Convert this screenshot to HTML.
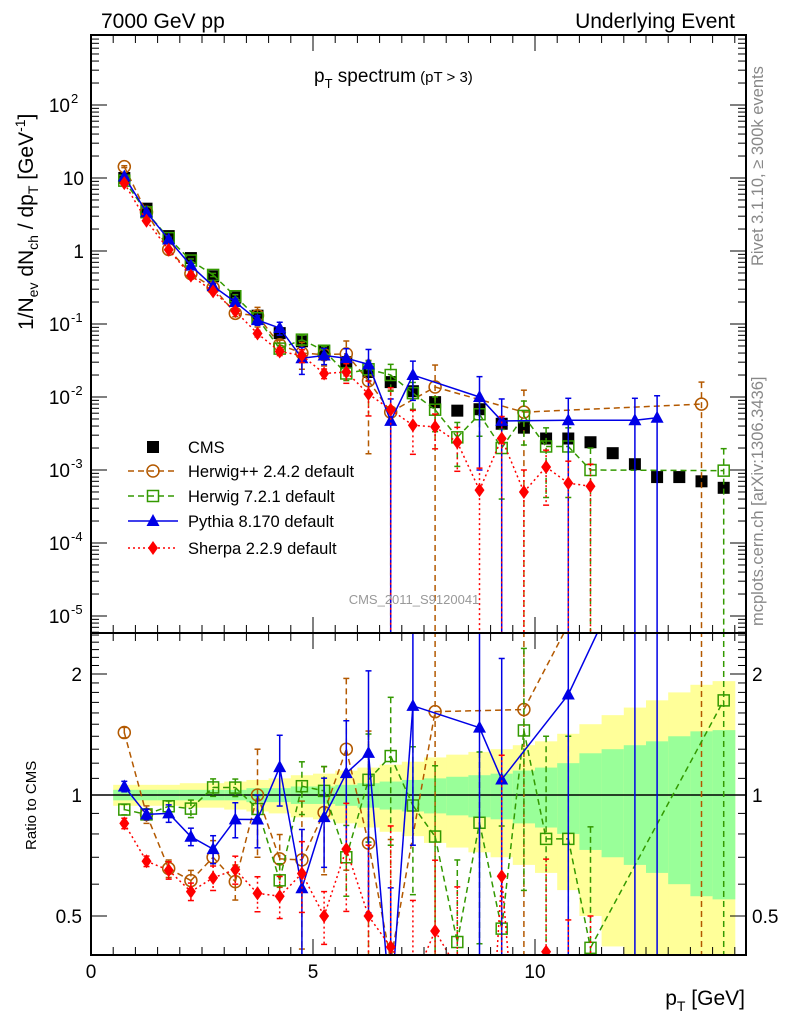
<!DOCTYPE html>
<html><head><meta charset="utf-8"><style>
html,body{margin:0;padding:0;background:#fff;width:786px;height:1024px;overflow:hidden}
svg{display:block;font-family:"Liberation Sans",sans-serif}
</style></head><body>
<svg id="chart" width="786" height="1024" viewBox="0 0 786 1024" xmlns="http://www.w3.org/2000/svg" overflow="hidden">
<defs>
<clipPath id="cm"><rect x="91" y="35" width="655" height="598"/></clipPath>
<clipPath id="cr"><rect x="91" y="633" width="655" height="322"/></clipPath>
</defs>
<g id="bands" clip-path="url(#cr)"></g>
<g id="series"></g>
<text x="101" y="28" font-size="21">7000 GeV pp</text>
<text x="735" y="28" font-size="21" text-anchor="end">Underlying Event</text>
<text x="314" y="82" font-size="19">p<tspan font-size="13" dy="6">T</tspan><tspan dy="-6"> spectrum</tspan><tspan font-size="15"> (pT &gt;  3)</tspan></text>
<text x="414" y="604" font-size="13" fill="#999" text-anchor="middle">CMS_2011_S9120041</text>
<text transform="translate(33,330) rotate(-90)" font-size="21">1/N<tspan font-size="14" dy="5">ev</tspan><tspan dy="-5"> dN</tspan><tspan font-size="14" dy="5">ch</tspan><tspan dy="-5"> / dp</tspan><tspan font-size="14" dy="5">T</tspan><tspan dy="-5"> [GeV</tspan><tspan font-size="14" dy="-8">-1</tspan><tspan dy="8">]</tspan></text>
<text transform="translate(36,850) rotate(-90)" font-size="15">Ratio to CMS</text>
<text x="745" y="1005" font-size="21" text-anchor="end">p<tspan font-size="14" dy="6">T</tspan><tspan dy="-6"> [GeV]</tspan></text>
<text transform="translate(763,266) rotate(-90)" font-size="16.5" fill="#888">Rivet 3.1.10, ≥ 300k events</text>
<text transform="translate(763,626) rotate(-90)" font-size="16.5" fill="#888">mcplots.cern.ch [arXiv:1306.3436]</text>
<g id="axes"></g>
<g id="legend"></g>
</svg>
<script>
const bins = [0.75,1.25,1.75,2.25,2.75,3.25,3.75,4.25,4.75,5.25,5.75,6.25,6.75,7.25,7.75,8.25,8.75,9.25,9.75,10.25,10.75,11.25,11.75,12.25,12.75,13.25,13.75,14.25];
const cmsVals = [10,3.8,1.6,0.8,0.45,0.23,0.13,0.075,0.058,0.042,0.03,0.022,0.016,0.012,0.0085,0.0065,0.0068,0.0043,0.0038,0.0027,0.0027,0.0024,0.0017,0.0012,0.0008,0.0008,0.0007,0.00057];
const herwigppVals = [14.3,3.4,1.05,0.49,0.315,0.14,0.13,0.052,0.04,0.038,0.039,0.0167,0.0062,null,0.0137,null,null,null,0.0062,null,null,null,null,null,null,null,0.008,null];
const herwigppErr = [0.03,0.05,0.05,0.06,0.1,0.1,0.3,0.15,0.4,0.3,0.5,0.9,1,null,1,null,null,null,1,null,null,null,null,null,null,null,1,null];
const herwig7Vals = [9.2,3.4,1.5,0.74,0.47,0.24,0.12,0.046,0.061,0.043,0.021,0.024,0.02,0.0113,0.0067,0.0028,0.0058,0.002,0.0055,0.0021,0.0021,0.001,null,null,null,null,null,0.00098];
const herwig7Err = [0.03,0.03,0.03,0.05,0.05,0.05,0.08,0.1,0.15,0.15,0.2,0.3,0.4,0.4,0.5,0.6,0.5,0.8,0.6,0.8,0.8,1,null,null,null,null,null,1];
const pythiaVals = [10.5,3.4,1.44,0.63,0.33,0.2,0.113,0.088,0.034,0.037,0.034,0.028,0.0047,0.02,null,null,0.01,0.0047,null,null,0.0048,null,null,0.0048,0.0052,null,null,null];
const pythiaErr = [0.03,0.03,0.05,0.05,0.08,0.1,0.15,0.2,0.4,0.25,0.35,0.6,1,0.55,null,null,0.9,1,null,null,1,null,null,1,1,null,null,null];
const sherpaVals = [8.5,2.6,1.04,0.46,0.28,0.15,0.074,0.042,0.037,0.021,0.022,0.011,0.0067,0.0041,0.0039,0.0024,0.00053,0.0027,0.0005,0.0011,0.00066,0.0006,null,null,null,null,null,null];
const sherpaErr = [0.03,0.03,0.05,0.05,0.07,0.08,0.1,0.12,0.2,0.15,0.3,0.5,1,0.6,0.5,0.6,1,1,1,0.7,1,1,null,null,null,null,null,null];
const bandInner = [0.03,0.03,0.03,0.03,0.03,0.03,0.04,0.04,0.05,0.05,0.06,0.07,0.08,0.09,0.1,0.11,0.12,0.13,0.15,0.17,0.2,0.27,0.3,0.33,0.36,0.4,0.44,0.45];
const bandOuter = [0.06,0.06,0.06,0.07,0.07,0.08,0.09,0.1,0.12,0.13,0.15,0.17,0.19,0.21,0.24,0.26,0.28,0.3,0.33,0.36,0.42,0.5,0.58,0.65,0.72,0.8,0.88,0.92];
const xTicks = [0,5,10];
const mainTickExp = [-5,-4,-3,-2,-1,0,1,2];
const mainTickLabels = ["10","10","10","10","10","1","10","10"];
const mainTickSup = ["-5","-4","-3","-2","-1","","","2"];
const ratioTicks = [0.5,1,2];
const ratioTickLabels = ["0.5","1","2"];

const NS="http://www.w3.org/2000/svg";
const X=v=>91+v*44.4;
const YM=v=>251-73*Math.log10(v);
const YR=r=>795-121*Math.log2(r);
function mk(tag,attrs,parent){const e=document.createElementNS(NS,tag);for(const k in attrs)e.setAttribute(k,attrs[k]);parent.appendChild(e);return e;}
const clampY=(y,a,b)=>Math.max(a-2,Math.min(b+2,y));
function clipSeg(x1,y1,x2,y2,a,b){
  let t0=0,t1=1;const dy=y2-y1;
  if(dy===0){if(y1<a||y1>b)return null;return [x1,y1,x2,y2];}
  let ta=(a-y1)/dy,tb=(b-y1)/dy;if(ta>tb){const t=ta;ta=tb;tb=t;}
  t0=Math.max(t0,ta);t1=Math.min(t1,tb);if(t0>=t1)return null;
  return [x1+(x2-x1)*t0,y1+dy*t0,x1+(x2-x1)*t1,y1+dy*t1];
}

const bandG=document.getElementById('bands');
bins.forEach((b,i)=>{
  const x0=X(b-0.25),x1=X(b+0.25);
  const lo=1-bandOuter[i];
  const yo1=clampY(YR(1+bandOuter[i]),633,955), yo2=lo>0?clampY(YR(lo),633,955):955;
  const r1=mk('rect',{x:x0,y:yo1,width:x1-x0+0.5,height:yo2-yo1,fill:'#ffff99'},bandG);
  
  
  const yi1=YR(1+bandInner[i]), yi2=YR(1-bandInner[i]);
  const r2=mk('rect',{x:x0,y:yi1,width:x1-x0+0.5,height:yi2-yi1,fill:'#99ff99'},bandG);
  
  
});
const l1=mk('line',{x1:91,x2:746,y1:YR(1),y2:YR(1),stroke:'#000','stroke-width':1.5},bandG);



function marker(g,type,x,y,color){
  let e;
  if(type==='sq') e=mk('rect',{x:x-6,y:y-6,width:12,height:12,fill:'#000'},g);
  else if(type==='circ') e=mk('circle',{cx:x,cy:y,r:6,fill:'none',stroke:color,'stroke-width':1.5},g);
  else if(type==='osq') e=mk('rect',{x:x-5.5,y:y-5.5,width:11,height:11,fill:'none',stroke:color,'stroke-width':1.5},g);
  else if(type==='tri') e=mk('polygon',{points:`${x},${y-7} ${x-6.5},${y+5} ${x+6.5},${y+5}`,fill:color},g);
  else if(type==='dia') e=mk('polygon',{points:`${x},${y-7} ${x-5},${y} ${x},${y+7} ${x+5},${y}`,fill:color},g);
  return e;
}
const seriesG=document.getElementById('series');
const mc=[
 {name:'herwigpp',vals:herwigppVals,err:herwigppErr,color:'#b35900',dash:'6,4',mk:'circ',label:'Herwig++ 2.4.2 default'},
 {name:'herwig7',vals:herwig7Vals,err:herwig7Err,color:'#339900',dash:'6,4',mk:'osq',label:'Herwig 7.2.1 default'},
 {name:'pythia',vals:pythiaVals,err:pythiaErr,color:'#0000e6',dash:'',mk:'tri',label:'Pythia 8.170 default'},
 {name:'sherpa',vals:sherpaVals,err:sherpaErr,color:'#ff0000',dash:'2,3',mk:'dia',label:'Sherpa 2.2.9 default'}
];
const dg=mk('g',{'clip-path':'url(#cm)'},seriesG);


bins.forEach((b,i)=>{const m=marker(dg,'sq',X(b),YM(cmsVals[i]));
  
  });

function drawSeries(s,panel){
  const g=mk('g',{'clip-path':panel==='main'?'url(#cm)':'url(#cr)'},seriesG);
  
  
  const top=panel==='main'?35:633, bot=panel==='main'?633:955;
  const Y=panel==='main'?(v=>YM(v)):(v=>YR(v));
  const pts=[];
  bins.forEach((b,i)=>{
    const v=s.vals[i]; if(v==null)return;
    const val=panel==='main'?v:v/cmsVals[i];
    const e=s.err[i];
    const lo=val*(1-e), hi=val*(1+e);
    const y=Y(val), yh=Y(hi), yl=lo>0?Y(lo):bot+5;
    const x=X(b);
    const ya=clampY(yh,top,bot), yb=clampY(yl,top,bot);
    if(yb>ya){
      const eb=mk('line',{x1:x,x2:x,y1:ya,y2:yb,stroke:s.color,'stroke-width':1.5,'stroke-dasharray':s.dash},g);
      
      
    }
    if(yh>top&&yh<bot)mk('line',{x1:x-3,x2:x+3,y1:yh,y2:yh,stroke:s.color,'stroke-width':1.5},g);
    if(lo>0&&yl>top&&yl<bot)mk('line',{x1:x-3,x2:x+3,y1:yl,y2:yl,stroke:s.color,'stroke-width':1.5},g);
    pts.push([x,y]);
  });
  for(let k=0;k+1<pts.length;k++){
    const c=clipSeg(pts[k][0],pts[k][1],pts[k+1][0],pts[k+1][1],top-2,bot+2);
    if(!c)continue;
    const ln=mk('line',{x1:c[0],y1:c[1],x2:c[2],y2:c[3],stroke:s.color,'stroke-width':1.5,'stroke-dasharray':s.dash},g);
    
    
  }
  pts.forEach(p=>{if(p[1]<top-8||p[1]>bot+8)return;const m=marker(g,s.mk,p[0],p[1],s.color);
    
    });
}
mc.forEach(s=>{drawSeries(s,'main');drawSeries(s,'ratio');});

const ax=document.getElementById('axes');
function frame(y0,y1,name){const r=mk('rect',{x:91,y:y0,width:655,height:y1-y0,fill:'none',stroke:'#000','stroke-width':2},ax);
  
  }
frame(35,633,'main-frame');frame(633,955,'ratio-frame');
for(let v=0.5;v<=14.75;v+=0.5){
  const x=X(v);const maj=Math.abs(v%5)<1e-9;const L=maj?16:8;
  [[35,1],[633,-1],[955,-1]].forEach(([y,d])=>{
    mk('line',{x1:x,x2:x,y1:y,y2:y+d*L,stroke:'#000','stroke-width':1},ax);});
  mk('line',{x1:x,x2:x,y1:633,y2:633+L,stroke:'#000','stroke-width':1},ax);
}
xTicks.forEach(t=>{const tx=mk('text',{x:X(t),y:978,'font-size':19,'text-anchor':'middle'},ax);tx.textContent=String(t);
  
  });
for(let d=-6;d<=2;d++){for(let k=1;k<=9;k++){const v=k*Math.pow(10,d);const y=YM(v);if(y<35||y>633)continue;
  const L=k===1?16:8;mk('line',{x1:91,x2:91+L,y1:y,y2:y,stroke:'#000'},ax);mk('line',{x1:746,x2:746-L,y1:y,y2:y,stroke:'#000'},ax);}}
mainTickExp.forEach((e,i)=>{const y=YM(Math.pow(10,e));
  const t=mk('text',{x:mainTickSup[i]?70:84,y:y+7,'font-size':19,'text-anchor':'end'},ax);t.textContent=mainTickLabels[i];
  
  
  if(mainTickSup[i]){const s=mk('text',{x:71,y:y-2,'font-size':13},ax);s.textContent=mainTickSup[i];}});
for(let r=0.4;r<=2.55;r+=0.1){const y=YR(r);if(y<633||y>955)continue;const maj=[0.5,1,2].some(q=>Math.abs(q-r)<1e-6);
  const L=maj?16:8;mk('line',{x1:91,x2:91+L,y1:y,y2:y,stroke:'#000'},ax);mk('line',{x1:746,x2:746-L,y1:y,y2:y,stroke:'#000'},ax);}
ratioTicks.forEach((r,i)=>{const y=YR(r);
  const a=mk('text',{x:82,y:y+7,'font-size':19,'text-anchor':'end'},ax);a.textContent=ratioTickLabels[i];
  
  
  const b=mk('text',{x:752,y:y+7,'font-size':19},ax);b.textContent=ratioTickLabels[i];
  
  });

const lg=document.getElementById('legend');
const ly=[447,471,496,521,548];
const e0=mk('g',{},lg);
marker(e0,'sq',153,ly[0]);
const t0=mk('text',{x:188,y:ly[0]+6,'font-size':16.5},e0);t0.textContent='CMS';
mc.forEach((s,i)=>{const g=mk('g',{},lg);
  
  
  const y=ly[i+1];
  mk('line',{x1:128,x2:178,y1:y,y2:y,stroke:s.color,'stroke-width':1.5,'stroke-dasharray':s.dash},g);
  marker(g,s.mk,153,y,s.color);
  const t=mk('text',{x:188,y:y+6,'font-size':16.5},g);t.textContent=s.label;});
</script>
</body></html>
